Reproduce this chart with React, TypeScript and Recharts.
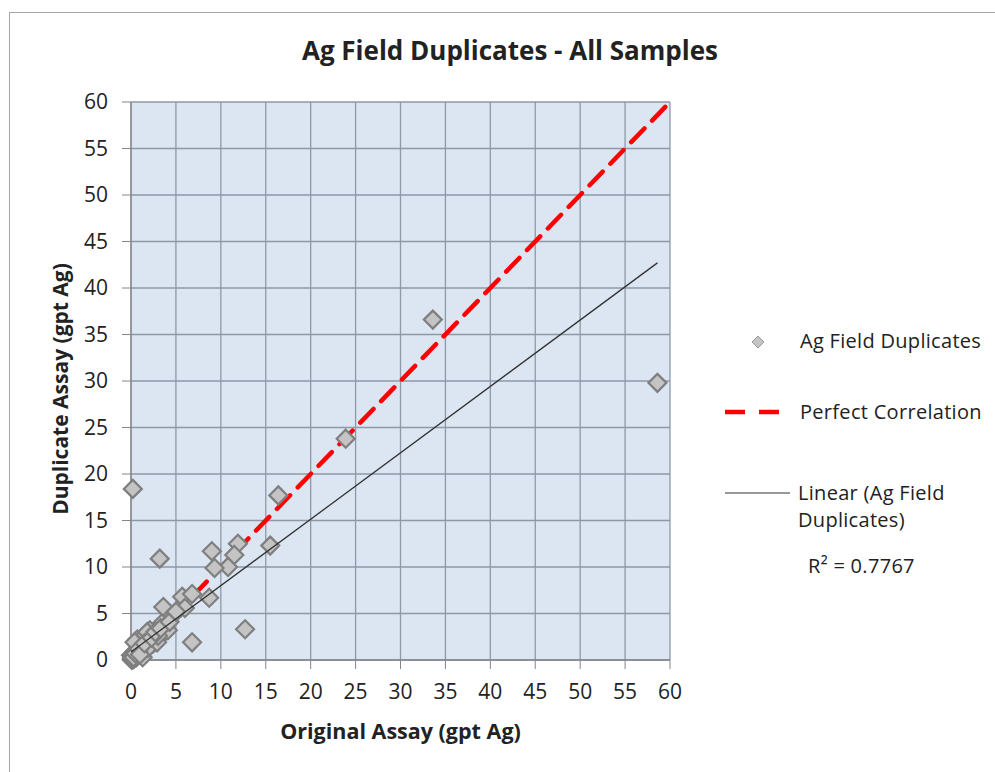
import React from 'react';
import { ScatterChart, Scatter, XAxis, YAxis, CartesianGrid, Label } from 'recharts';

const originalAssay = [
  0.2, 3.2, 33.6, 58.6, 23.9, 16.4, 15.5, 12.7, 11.9, 11.5, 10.8, 9.0, 9.3,
  0.0, 0.4, 1.2, 0.7, 1.6, 2.1, 2.5, 3.2, 3.5, 3.6, 4.6, 5.5, 5.7, 6.8, 8.7, 6.8, 1.3, 0.1, 1.9, 4.1,
  0.4, 0.2, 0.5, 0.8, 2.9, 1.8, 3.0, 6.0, 0.3, 0.6,
  0.1, 0.2, 0.3, 0.5, 0.9, 1.0, 1.5, 2.3, 2.7, 3.3, 4.3, 5.0,
];
const duplicateAssay = [
  18.4, 10.9, 36.6, 29.8, 23.8, 17.7, 12.3, 3.3, 12.5, 11.3, 10.0, 11.7, 9.9,
  0.5, 0.9, 1.4, 2.2, 2.7, 3.2, 1.8, 2.5, 4.0, 5.7, 4.8, 5.6, 6.8, 7.1, 6.7, 1.9, 0.3, 0.0, 1.3, 3.2,
  1.9, 0.2, 0.4, 0.9, 1.9, 3.0, 2.6, 5.6, 0.1, 0.3,
  0.2, 0.4, 0.3, 0.7, 1.2, 0.6, 1.8, 2.4, 3.0, 3.4, 4.1, 5.2,
];

const perfectX = [0, 60];
const perfectY = [0, 60];

// trendline endpoints
const trendX = [0.0, 58.6];
const trendY = [0.85, 42.7];

const axisTicks = [0, 5, 10, 15, 20, 25, 30, 35, 40, 45, 50, 55, 60];

const seriesNames = ['Ag Field Duplicates', 'Perfect Correlation', 'Linear (Ag Field', 'Duplicates)'];
const rSquared = 'R² = 0.7767';

const samples = originalAssay.map((x, i) => ({ x, y: duplicateAssay[i] }));
const perfect = perfectX.map((x, i) => ({ x, y: perfectY[i] }));
const trend = trendX.map((x, i) => ({ x, y: trendY[i] }));

const FONT = '"Open Sans", Lato, sans-serif';

const Diamond = (props: any) => {
  const { cx, cy } = props;
  const r = 9;
  return (
    <polygon
      points={`${cx},${cy - r} ${cx + r},${cy} ${cx},${cy + r} ${cx - r},${cy}`}
      fill="#c4c4c4"
      stroke="#7f7f7f"
      strokeWidth={2.2}
    />
  );
};

const NoShape = () => <g />;

const LegendBox = () => (
  <svg
    width={275}
    height={260}
    style={{
      position: 'absolute',
      left: 720,
      top: 320,
      fontFamily: FONT,
      fontSize: 20,
      letterSpacing: 0.3,
      fill: '#222',
    }}
  >
    <polygon points="38,16 44,22 38,28 32,22" fill="#c4c4c4" stroke="#9a9a9a" strokeWidth={1} />
    <text x={80} y={28}>{seriesNames[0]}</text>
    <line x1={5} y1={92} x2={59} y2={92} stroke="#ff0000" strokeWidth={4.5} strokeDasharray="20 14" />
    <text x={80} y={99}>{seriesNames[1]}</text>
    <line x1={5} y1={173} x2={70} y2={173} stroke="#333" strokeWidth={1.2} />
    <text x={78} y={180}>{seriesNames[2]}</text>
    <text x={78} y={207}>{seriesNames[3]}</text>
    <text x={88} y={253}>{rSquared}</text>
  </svg>
);

const YLabel = (props: any) => {
  const vb = props.viewBox;
  const cx = 60;
  const cy = vb.y + vb.height / 2 + 8;
  return (
    <text
      x={cx}
      y={cy}
      transform={`rotate(-90 ${cx} ${cy})`}
      textAnchor="middle"
      dominantBaseline="central"
      style={{ fontFamily: FONT, fontSize: 21, fontWeight: 700, fill: '#222' }}
    >
      Duplicate Assay (gpt Ag)
    </text>
  );
};

export default function App() {
  return (
    <div
      style={{
        position: 'absolute',
        left: 0,
        top: 0,
        width: 995,
        height: 772,
        overflow: 'hidden',
        background: '#fff',
        fontFamily: FONT,
      }}
    >
      <div
        style={{
          position: 'absolute',
          left: 9,
          top: 12,
          width: 1100,
          height: 900,
          border: '1.5px solid #a6a6a6',
        }}
      />
      <div
        style={{
          position: 'absolute',
          left: 0,
          top: 32,
          width: 1020,
          textAlign: 'center',
          fontSize: 26,
          fontWeight: 700,
          color: '#222',
        }}
      >
        Ag Field Duplicates - All Samples
      </div>
      <div style={{ position: 'absolute', left: 0, top: 0 }}>
        <ScatterChart width={995} height={772} margin={{ top: 102, right: 325, bottom: 30, left: 40 }}>
          <CartesianGrid fill="#dce6f2" stroke="#8d99a9" strokeWidth={1.3} />
          <XAxis
            type="number"
            dataKey="x"
            domain={[0, 60]}
            ticks={axisTicks}
            height={82}
            tickSize={9}
            tickMargin={15}
            axisLine={{ stroke: '#868686', strokeWidth: 1.3 }}
            tickLine={{ stroke: '#868686' }}
            tick={{ fill: '#222', fontSize: 21, fontFamily: FONT }}
          >
            <Label
              value="Original Assay (gpt Ag)"
              position="insideBottom"
              offset={3}
              style={{ fontFamily: FONT, fontSize: 21.5, fontWeight: 700, fill: '#222' }}
            />
          </XAxis>
          <YAxis
            type="number"
            dataKey="y"
            domain={[0, 60]}
            ticks={axisTicks}
            width={91}
            tickSize={9}
            tickMargin={14}
            axisLine={{ stroke: '#868686', strokeWidth: 1.3 }}
            tickLine={{ stroke: '#868686' }}
            tick={{ fill: '#222', fontSize: 21, fontFamily: FONT }}
          >
            <Label content={YLabel} />
          </YAxis>
          <Scatter
            name={seriesNames[1]}
            data={perfect}
            line={{ stroke: '#ff0000', strokeWidth: 4.5, strokeDasharray: '19 11', strokeLinecap: 'round' }}
            shape={NoShape}
            isAnimationActive={false}
          />
          <Scatter name={seriesNames[0]} data={samples} shape={Diamond} isAnimationActive={false} />
          <Scatter
            name={seriesNames[2]}
            data={trend}
            line={{ stroke: '#333', strokeWidth: 1.3 }}
            shape={NoShape}
            isAnimationActive={false}
          />
        </ScatterChart>
      </div>
      <LegendBox />
    </div>
  );
}
